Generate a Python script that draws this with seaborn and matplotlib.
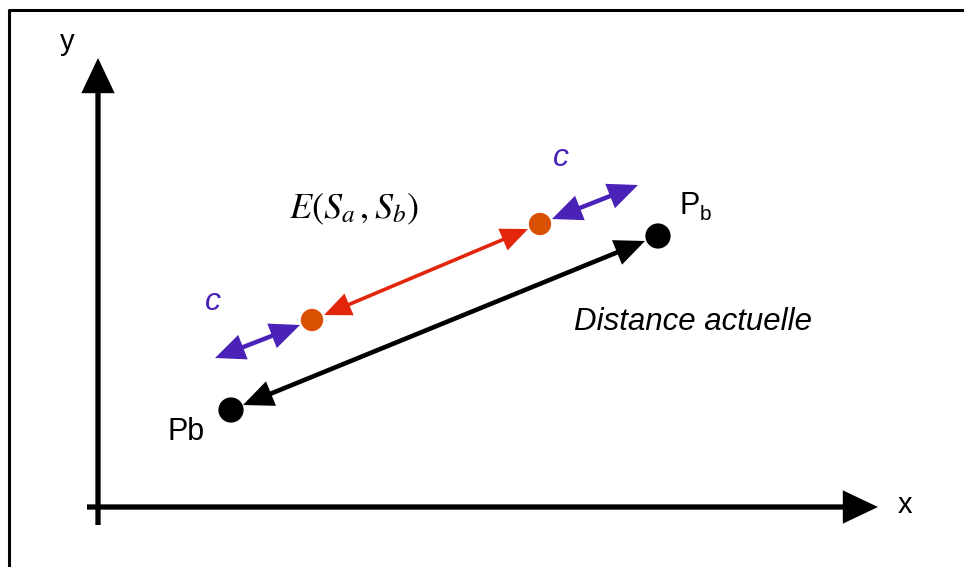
import matplotlib.pyplot as plt
from matplotlib.patches import FancyArrowPatch
import pandas as pd
import seaborn as sns

# positions du schéma (pixels, y vers le bas)
point_x = [231, 658, 312, 540]
point_y = [410, 236, 320, 224]
point_kind = ['P', 'P', 'S', 'S']

axis_x = [87, 507, 878, 507]
axis_y = [98, 525, 98, 58]
dist_seg = [645, 241, 243, 405]
energy_seg = [324, 315, 528, 229]
c_left = [215, 358, 300, 325]
c_right = [552, 219, 638, 185]

BLACK = '#000000'
ORANGE = '#D95204'
RED = '#E2260C'
PURPLE = '#4A22B8'

sns.set_style('white')
plt.rcParams['font.family'] = ['Liberation Sans', 'DejaVu Sans']
plt.rcParams['mathtext.fontset'] = 'stix'
plt.rcParams['text.color'] = BLACK

fig = plt.figure(figsize=(9.64, 5.67), dpi=100)
ax = fig.add_axes([0, 0, 1, 1])

# cadre
ax.plot([9, 9, 970], [580, 10, 10], color=BLACK, lw=2.2, solid_capstyle='butt')


def arrow(seg, color, lw, both=True, hl=16, hw=7):
    style = f"{'<|-|>' if both else '-|>'},head_length={hl},head_width={hw}"
    p = FancyArrowPatch((seg[0], seg[1]), (seg[2], seg[3]), arrowstyle=style,
                        mutation_scale=1, color=color, lw=lw,
                        shrinkA=0, shrinkB=0, zorder=2,
                        joinstyle='miter', capstyle='butt')
    ax.add_patch(p)


arrow(axis_x, BLACK, 3.8, both=False, hl=19, hw=9)
arrow(axis_y, BLACK, 3.8, both=False, hl=19, hw=9)
arrow(dist_seg, BLACK, 3.3, hl=16, hw=7)
arrow(energy_seg, RED, 2.6, hl=15, hw=6.5)
arrow(c_left, PURPLE, 3.2, hl=16, hw=7)
arrow(c_right, PURPLE, 3.2, hl=16, hw=7)

df = pd.DataFrame({'x': point_x, 'y': point_y, 'kind': point_kind})
sns.scatterplot(data=df, x='x', y='y', hue='kind', size='kind',
                palette={'P': BLACK, 'S': ORANGE}, sizes={'P': 330, 'S': 260},
                linewidth=0, legend=False, ax=ax, zorder=3)
ax.set_xlim(0, 964)
ax.set_ylim(567, 0)
ax.axis('off')

ax.text(67, 42, 'y', fontsize=21, ha='center', va='center')
ax.text(905, 505, 'x', fontsize=21, ha='center', va='center')
ax.text(186, 432, 'Pb', fontsize=22, ha='center', va='center')
ax.text(680, 206, 'P', fontsize=22, ha='left', va='center')
ax.text(700, 214, 'b', fontsize=15, ha='left', va='center')
ax.text(213, 302, 'c', fontsize=23, style='italic', color=PURPLE,
        ha='center', va='center')
ax.text(561, 158, 'c', fontsize=23, style='italic', color=PURPLE,
        ha='center', va='center')
ax.text(354, 209, r'$E(S_a\,,S_b)$', fontsize=26, ha='center', va='center')
ax.text(693, 322, 'Distance actuelle', fontsize=22.5, style='italic',
        ha='center', va='center')

fig.savefig('out.png', dpi=100)
